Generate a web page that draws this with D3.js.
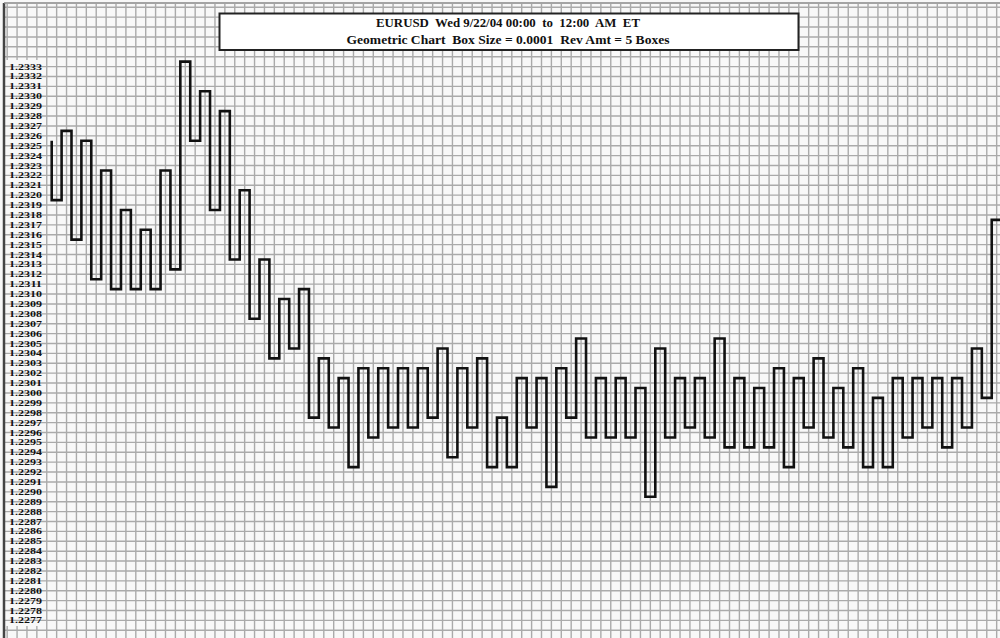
<!DOCTYPE html>
<html>
<head>
<meta charset="utf-8">
<script src="https://cdn.jsdelivr.net/npm/d3@7"></script>
<style>
  html, body { margin: 0; padding: 0; background: #fff; }
  svg { display: block; }
  text { font-family: "Liberation Serif", "Times New Roman", serif; font-weight: bold; fill: #111; white-space: pre; }
</style>
</head>
<body>
<script>
/* EURUSD geometric point & figure chart, box 0.0001, 5 box reversal */
const TITLE = [
  "EURUSD  Wed 9/22/04 00:00  to  12:00  AM  ET",
  "Geometric Chart  Box Size = 0.0001  Rev Amt = 5 Boxes"
];

// price axis labels (in box units of 0.0001)
const labelBoxes = d3.range(12333, 12276, -1);
const BOX = 0.0001;

// column extremes: highs[i] starts column 2i, lows[i] ends it
const highs = [1.2325, 1.2326, 1.2325, 1.2322, 1.2318, 1.2316, 1.2322, 1.2333, 1.2330, 1.2328,
               1.2320, 1.2313, 1.2309, 1.2310, 1.2303, 1.2301, 1.2302, 1.2302, 1.2302, 1.2302,
               1.2304, 1.2302, 1.2303, 1.2297, 1.2301, 1.2301, 1.2302, 1.2305, 1.2301, 1.2301,
               1.2300, 1.2304, 1.2301, 1.2301, 1.2305, 1.2301, 1.2300, 1.2302, 1.2301, 1.2303,
               1.2300, 1.2302, 1.2299, 1.2301, 1.2301, 1.2301, 1.2301, 1.2304, 1.2317];
const lows  = [1.2320, 1.2316, 1.2312, 1.2311, 1.2311, 1.2311, 1.2313, 1.2326, 1.2319, 1.2314,
               1.2308, 1.2304, 1.2305, 1.2298, 1.2297, 1.2293, 1.2296, 1.2297, 1.2297, 1.2298,
               1.2294, 1.2297, 1.2293, 1.2293, 1.2297, 1.2291, 1.2298, 1.2296, 1.2296, 1.2296,
               1.2290, 1.2296, 1.2297, 1.2296, 1.2295, 1.2295, 1.2295, 1.2293, 1.2297, 1.2296,
               1.2295, 1.2293, 1.2293, 1.2296, 1.2297, 1.2295, 1.2297, 1.2300];

const W = 1000, H = 638;
const svg = d3.select("body").append("svg").attr("width", W).attr("height", H);

const y = d3.scaleLinear().domain([12333, 12277]).range([66.6, 620.4]);
const boxPx = y(12332) - y(12333);
const x = d3.scaleLinear().domain([0, 96]).range([51.7, 51.7 + 96 * 9.895]);

svg.append("rect").attr("width", W).attr("height", H).attr("fill", "#f8f8f8");

/* grid */
const GRID = "#aaaaaa";
svg.append("g").attr("stroke", GRID).attr("stroke-width", 1.4)
  .selectAll("line").data(d3.range(-5, 96)).join("line")
  .attr("x1", k => x(k) + boxPx / 2).attr("x2", k => x(k) + boxPx / 2)
  .attr("y1", 4).attr("y2", H);
svg.append("rect").attr("x", 6).attr("y", 60).attr("width", 38).attr("height", 566).attr("fill", "#f8f8f8");
svg.append("g").attr("stroke", GRID).attr("stroke-width", 1.4)
  .selectAll("line").data(d3.range(12339, 12274, -1)).join("line")
  .attr("x1", 5).attr("x2", W)
  .attr("y1", d => y(d)).attr("y2", d => y(d));

/* borders */
svg.append("line").attr("x1", 4).attr("x2", 4).attr("y1", 3).attr("y2", H)
  .attr("stroke", "#444").attr("stroke-width", 2.5);
svg.append("line").attr("x1", 4).attr("x2", W).attr("y1", 3).attr("y2", 3)
  .attr("stroke", "#888").attr("stroke-width", 1.5);

/* price labels */
svg.append("g").selectAll("text").data(labelBoxes).join("text")
  .attr("x", 9).attr("y", d => y(d)).attr("dy", "0.35em")
  .attr("font-size", 8.6)
  .attr("textLength", 33).attr("lengthAdjust", "spacingAndGlyphs")
  .text(d => (d / 10000).toFixed(4));

/* geometric line */
const levels = [];
highs.forEach((h, i) => {
  levels.push({ v: Math.round(h / BOX), hi: true });
  if (i < lows.length) levels.push({ v: Math.round(lows[i] / BOX), hi: false });
});
const edge = l => y(l.v) + (l.hi ? -boxPx / 2 : boxPx / 2);
const pts = [[x(0), edge(levels[0])]];
for (let k = 0; k < levels.length - 1; k++) {
  const ly = edge(levels[k + 1]);
  pts.push([x(k), ly], [x(k + 1), ly]);
}
svg.append("path")
  .attr("d", d3.line()(pts))
  .attr("fill", "none").attr("stroke", "#111").attr("stroke-width", 2.6)
  .attr("stroke-linejoin", "miter");

/* title box */
const tb = svg.append("g");
tb.append("rect").attr("x", 219.5).attr("y", 13.5).attr("width", 579).attr("height", 36.5)
  .attr("fill", "#fff").attr("stroke", "#222").attr("stroke-width", 2);
tb.selectAll("text").data(TITLE).join("text")
  .attr("x", 508).attr("y", (d, i) => 22.5 + i * 17.5).attr("dy", "0.35em")
  .attr("text-anchor", "middle").attr("font-size", 12.5)
  .attr("textLength", (d, i) => [264, 323][i]).attr("lengthAdjust", "spacingAndGlyphs")
  .text(d => d);
</script>
</body>
</html>
